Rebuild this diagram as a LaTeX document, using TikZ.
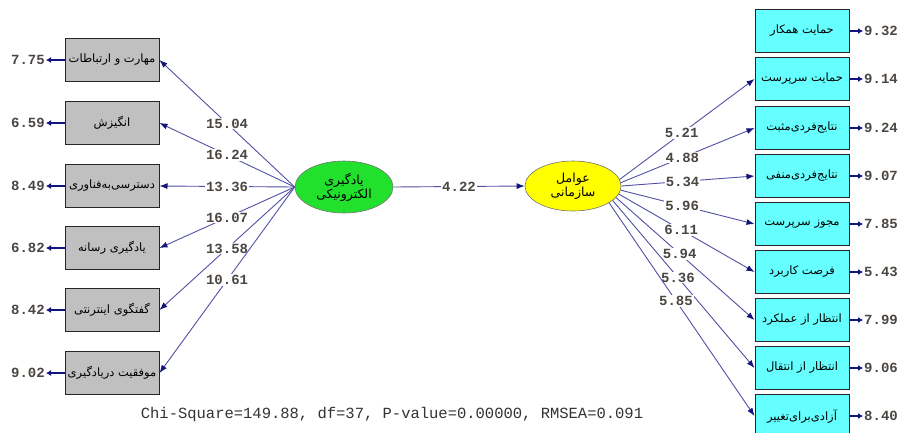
\documentclass[tikz,border=0pt]{standalone}
\usepackage{fontspec}
\setmainfont{Liberation Sans}
\newfontfamily\farsi[Script=Arabic]{DejaVu Sans}
\newfontfamily\lisrel{Liberation Mono}
\TeXXeTstate=1
\usetikzlibrary{arrows.meta,shapes.geometric}

\definecolor{pathblue}{RGB}{80,80,165}
\definecolor{headblue}{RGB}{20,20,125}
\definecolor{numgray}{RGB}{75,70,65}
\definecolor{boxgray}{RGB}{192,192,192}
\definecolor{boxcyan}{RGB}{102,255,255}
\definecolor{latgreen}{RGB}{34,225,45}
\definecolor{latyellow}{RGB}{255,255,0}

\tikzset{
	obsleft/.style={draw=black!85,line width=1pt,fill=boxgray,minimum width=94pt,
		minimum height=43pt,inner sep=0pt,font=\farsi\fontsize{11.5}{13}\selectfont},
	obsright/.style={obsleft,fill=boxcyan},
	latent/.style={ellipse,draw=black!55,line width=0.6pt,inner sep=0pt,align=center,
		font=\farsi\fontsize{12.5}{14}\selectfont},
	load/.style={draw=pathblue,line width=0.9pt,-{Latex[length=8pt,width=6pt,color=headblue]}},
	errarrow/.style={draw=headblue,line width=2.2pt,-{Latex[length=5pt,width=6pt]}},
	coef/.style={font=\lisrel\bfseries\fontsize{14}{14}\selectfont,text=numgray,
		fill=white,inner sep=1pt},
	errnum/.style={font=\lisrel\bfseries\fontsize{14}{14}\selectfont,text=numgray,inner sep=1pt}
}

\begin{document}
\begin{tikzpicture}[x=1pt,y=-1pt]
		\useasboundingbox (0,0) rectangle (899,432);
		% latent variables
		\node[latent,fill=latgreen,minimum width=98pt,minimum height=52pt] (elearn) at (344,187)
			{\beginR یادگیری\endR\\\beginR الکترونیکی\endR};
		\node[latent,fill=latyellow,minimum width=96pt,minimum height=50pt] (orgfac) at (573,186)
			{\beginR عوامل\endR\\\beginR سازمانی\endR};
		\draw[load] (elearn.east) -- node[coef,pos=0.5] {4.22} (orgfac.west);
		% left indicators
		\foreach \i/\y/\txt/\err/\t in {1/60/{مهارت و ارتباطات}/7.75/15.04,
				2/123/{انگیزش}/6.59/16.24, 3/186/{دسترسی‌به‌فناوری}/8.49/13.36,
				4/248/{یادگیری رسانه}/6.82/16.07, 5/310/{گفتگوی اینترنتی}/8.42/13.58,
				6/373/{موفقیت دریادگیری}/9.02/10.61}{
			\node[obsleft] (x\i) at (112,\y) {\beginR\txt\endR};
			\node[errnum,anchor=east] (ex\i) at (46,\y) {\err};
			\draw[errarrow] (x\i.west) -- (ex\i.east);
			\draw[load] (elearn.west) -- node[coef,pos=0.5] {\t} (x\i.east);
		}
		% right indicators
		\foreach \i/\y/\txt/\err in {1/31/{حمایت همکار}/9.32, 2/79/{حمایت سرپرست}/9.14,
				3/128/{نتایج‌فردی‌مثبت}/9.24, 4/176/{نتایج‌فردی‌منفی}/9.07,
				5/224/{مجوز سرپرست}/7.85, 6/272/{فرصت کاربرد}/5.43,
				7/320/{انتظار از عملکرد}/7.99, 8/368/{انتظار از انتقال}/9.06,
				9/416/{آزادی‌برای‌تغییر}/8.40}{
			\node[obsright] (y\i) at (802,\y) {\beginR\txt\endR};
			\node[errnum,anchor=west] (ey\i) at (863,\y) {\err};
			\draw[errarrow] (y\i.east) -- (ey\i.west);
		}
		\foreach \i/\a/\t in {2/8/5.21, 3/4/4.88, 4/0/5.34, 5/-5/5.96, 6/-10/6.11,
				7/-15/5.94, 8/-20/5.36, 9/-25/5.85}{
			\draw[load] (orgfac.\a) -- node[coef,pos=0.46] {\t} (y\i.west);
		}
		% fit statistics
		\node[font=\lisrel\fontsize{15.5}{16}\selectfont,text=black!80] (fit) at (392,414)
			{Chi-Square=149.88, df=37, P-value=0.00000, RMSEA=0.091};
	\end{tikzpicture}
\end{document}
